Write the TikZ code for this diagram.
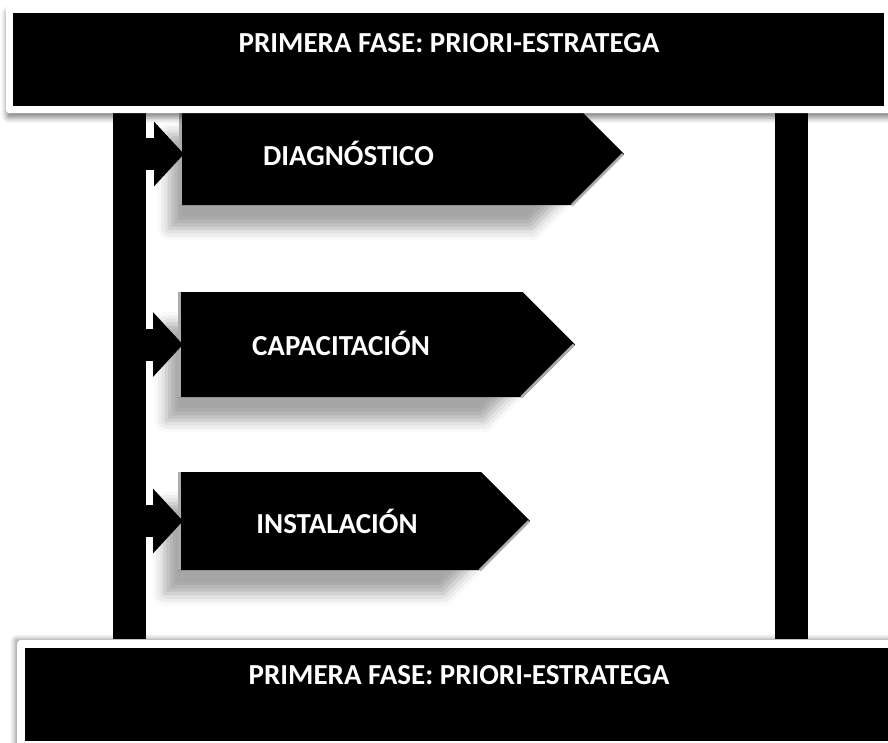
\documentclass[tikz,border=0pt]{standalone}
\usepackage{fontspec}
\setmainfont{Carlito}
\usetikzlibrary{shapes.symbols,arrows.meta,shadows.blur,calc}

\tikzset{
  frame/.style={fill=white,rounded corners=3pt,inner sep=0pt,anchor=north west},
  banner/.style={fill=black,inner sep=0pt,anchor=north west},
  bar/.style={fill=black,inner sep=0pt,anchor=north west,minimum width=33pt,minimum height=533pt},
  stage/.style={signal,signal to=east,signal from=nowhere,signal pointer angle=90,
    fill=black,inner sep=0pt,anchor=west,
    blur shadow={shadow xshift=-30pt,shadow yshift=-30pt,shadow scale=0.92,
      shadow blur radius=13pt,shadow opacity=35}},
  bevel/.style={draw=gray!65,line width=2.5pt},
  link/.style={line width=32pt,-{Triangle[width=63pt,length=30pt]}},
  txt/.style={text=white,font=\fontsize{29}{34}\selectfont\bfseries,anchor=base,inner sep=0pt}
}

\begin{document}
\begin{tikzpicture}[x=1pt,y=-1pt]
            \useasboundingbox (0,0) rectangle (888,742);

            \node[bar] (barL) at (113,106) {};
            \node[bar] (barR) at (775,106) {};

            \node[stage,minimum width=445pt,minimum height=102pt] (diag) at (179,154) {};
            \node[stage,minimum width=397pt,minimum height=105pt] (capa) at (178,344.5) {};
            \node[stage,minimum width=352pt,minimum height=98pt] (inst) at (178,521) {};
            \foreach \s in {diag,capa,inst}{
              \draw[bevel] ([xshift=1.5pt]\s.north west) -- ([xshift=1.5pt]\s.south west);
              \draw[bevel] let \p1=(\s.east),\p2=(\s.south) in
                ([xshift=-1.5pt]\p1) -- ([xshift=-1.5pt]\x1-\y1+\y2,\y2);
              \draw[link] (barL.east |- \s.west) -- ([xshift=5pt]\s.west);
            }
            \node[txt] (diagtxt) at (348.5,165) {DIAGNÓSTICO};
            \node[txt] (capatxt) at (341,355) {CAPACITACIÓN};
            \node[txt] (insttxt) at (337,533) {INSTALACIÓN};

            \node[frame,minimum width=886pt,minimum height=108pt,
              blur shadow={shadow xshift=0pt,shadow yshift=-5pt,shadow blur radius=5pt,shadow opacity=45}]
              (topframe) at (6,5) {};
            \node[banner,minimum width=871pt,minimum height=93pt] (faseA) at (13,13) {};
            \node[txt] (faseAtxt) at (449,52) {PRIMERA FASE: PRIORI-ESTRATEGA};

            \node[frame,minimum width=880pt,minimum height=110pt,
              blur shadow={shadow xshift=-3pt,shadow yshift=2pt,shadow blur radius=4pt,shadow opacity=35}]
              (botframe) at (17,640) {};
            \node[banner,minimum width=870pt,minimum height=93pt] (faseB) at (25,648) {};
            \node[txt] (faseBtxt) at (459,684) {PRIMERA FASE: PRIORI-ESTRATEGA};
        \end{tikzpicture}
\end{document}
